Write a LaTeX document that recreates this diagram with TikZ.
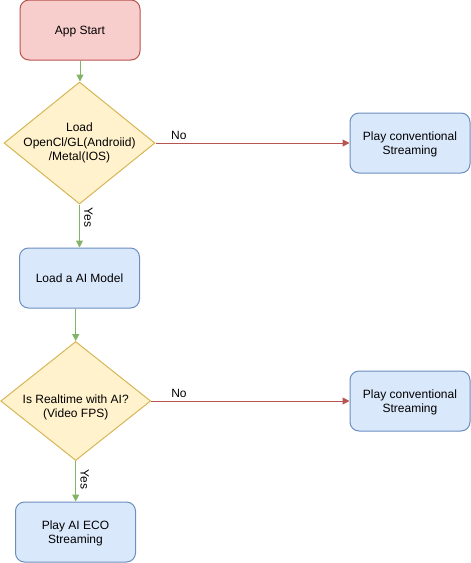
\documentclass[tikz,border=0pt]{standalone}
\usepackage{fontspec}
\setmainfont{Liberation Sans}
\usetikzlibrary{shapes.geometric,arrows.meta}
\definecolor{redfill}{HTML}{F8CECC}
\definecolor{redline}{HTML}{B85450}
\definecolor{yelfill}{HTML}{FFF2CC}
\definecolor{yelline}{HTML}{D6B656}
\definecolor{bluefill}{HTML}{DAE8FC}
\definecolor{blueline}{HTML}{6C8EBF}
\definecolor{greenline}{HTML}{82B366}
\begin{document}
\begin{tikzpicture}[x=1pt,y=-1pt,
  every node/.style={font=\fontsize{12}{14.5}\selectfont, align=center, inner sep=0pt},
  box/.style={draw=blueline, fill=bluefill, rounded corners=9pt, minimum width=120pt, minimum height=60pt, line width=1pt, text depth=-1pt},
  startbox/.style={draw=redline, fill=redfill, rounded corners=9pt, minimum width=120pt, minimum height=60pt, line width=1pt, text depth=-1pt},
  decision/.style={diamond, draw=yelline, fill=yelfill, line width=1pt},
  yesarrow/.style={draw=greenline, line width=1pt, -{Triangle[length=7pt,width=7pt]}},
  noarrow/.style={draw=redline, line width=1pt, -{Triangle[length=7pt,width=7pt]}},
  lbl/.style={font=\fontsize{12}{14.5}\selectfont}
]
\useasboundingbox (0,0) rectangle (471,563);

\node[startbox] (start) at (80,30) {App Start};
\node[decision, minimum width=151pt, minimum height=122pt] (d1) at (79.5,143) {};
\node (t1) at (79.5,143) {Load\\OpenCl/GL(Androiid)\\/Metal(IOS)};
\node[box] (conv1) at (410,143) {Play conventional\\Streaming};
\node[box] (model) at (79.5,278) {Load a AI Model};
\node[decision, minimum width=150pt, minimum height=119pt] (d2) at (75.7,401) {};
\node (t2) at (75.7,407.5) {Is Realtime with AI?\\(Video FPS)};
\node[box] (conv2) at (410,401) {Play conventional\\Streaming};
\node[box] (eco) at (75.5,532) {Play AI ECO\\Streaming};

\draw[yesarrow] (start.south) -- (start.south |- d1.north);
\draw[noarrow] (d1.east) -- (conv1.west) node[lbl, pos=0.12, above=3pt] (no1) {No};
\draw[yesarrow] (d1.south) -- (d1.south |- model.north) node[lbl, rotate=-90, pos=0.3, yshift=9pt] (yes1) {Yes};
\draw[yesarrow] (model.south -| d2.north) -- (d2.north);
\draw[noarrow] (d2.east) -- (conv2.west) node[lbl, pos=0.14, above=3pt] (no2) {No};
\draw[yesarrow] (d2.south) -- (d2.south |- eco.north) node[lbl, rotate=-90, pos=0.46, yshift=9pt] (yes2) {Yes};
\end{tikzpicture}
\end{document}
